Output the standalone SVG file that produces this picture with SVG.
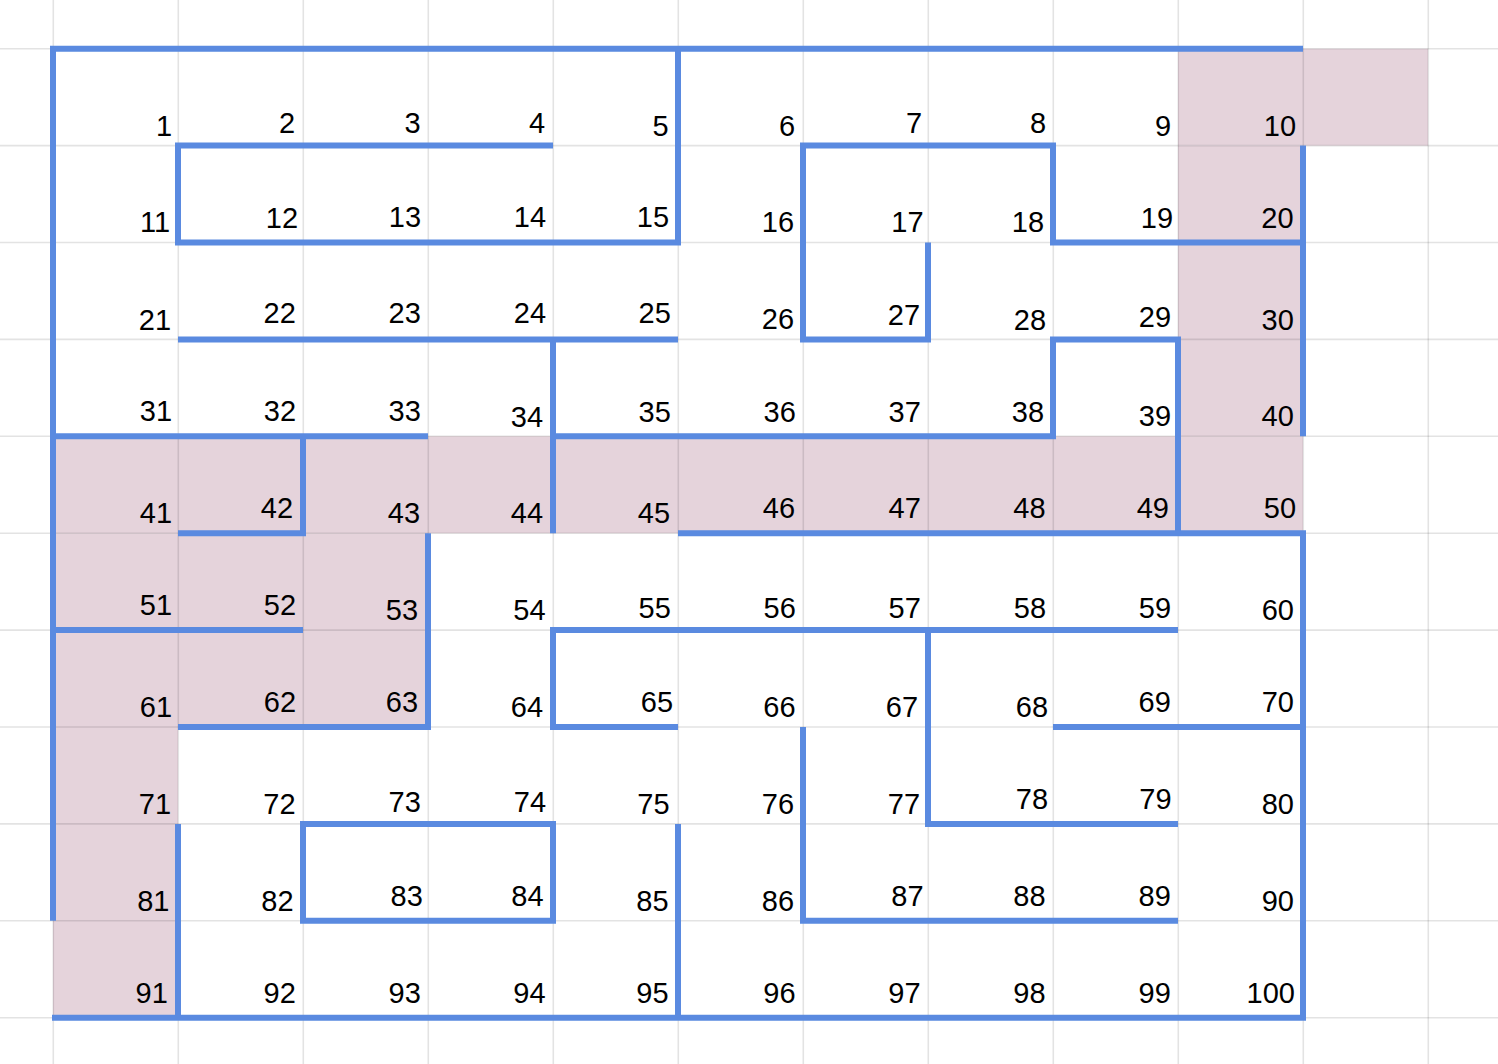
<svg xmlns="http://www.w3.org/2000/svg" width="1498" height="1064" viewBox="0 0 1498 1064">
<style>
.pink{fill:#e5d3db}
.grid{stroke:#000;stroke-opacity:0.11;stroke-width:1.6;fill:none}
.wall{stroke:#5a8ae0;stroke-width:6;fill:none;stroke-linejoin:miter;stroke-linecap:butt}
text{font-family:"Liberation Sans",Arial,sans-serif;font-size:29px;fill:#000;text-anchor:middle}
</style>
<rect width="1498" height="1064" fill="#fff"/>
<g id="path-cells">
<rect class="pink" x="1178" y="48.7" width="250" height="96.9"/>
<rect class="pink" x="1178" y="145.6" width="125" height="290.7"/>
<rect class="pink" x="53" y="436.3" width="1250" height="96.9"/>
<rect class="pink" x="53" y="533.2" width="375" height="193.8"/>
<rect class="pink" x="53" y="727" width="125" height="290.7"/>
</g>
<g id="gridlines" class="grid">
<path d="M53.3,0V1064M178.3,0V1064M303.3,0V1064M428.3,0V1064M553.3,0V1064M678.3,0V1064M803.3,0V1064M928.3,0V1064M1053.3,0V1064M1178.3,0V1064M1303.3,0V1064M1428.3,0V1064"/>
<path d="M0,48.7H1498M0,145.6H1498M0,242.5H1498M0,339.4H1498M0,436.3H1498M0,533.2H1498M0,630.1H1498M0,727H1498M0,823.9H1498M0,920.8H1498M0,1017.7H1498"/>
</g>
<g id="walls" class="wall">
<path d="M53,920.8V48.7H1303"/>
<path d="M1303,145.6V436.3"/>
<path d="M678,533.2H1303V1017.7H52"/>
<path d="M553,145.6H178V242.5H678V48.7"/>
<path d="M928,242.5V339.4H803V145.6H1053V242.5H1303"/>
<path d="M178,339.4H678"/>
<path d="M553,339.4V533.2"/>
<path d="M553,436.3H1053V339.4H1178V533.2"/>
<path d="M53,436.3H428"/>
<path d="M303,436.3V533.2H178"/>
<path d="M428,533.2V727H178"/>
<path d="M53,630.1H303"/>
<path d="M678,727H553V630.1H1178"/>
<path d="M928,630.1V823.9H1178"/>
<path d="M1053,727H1303"/>
<path d="M803,727V920.8H1178"/>
<path d="M303,823.9H553V920.8H303Z"/>
<path d="M178,823.9V1017.7"/>
<path d="M678,823.9V1017.7"/>
</g>
<g id="labels">
<text x="164" y="136">1</text>
<text x="287" y="133.3">2</text>
<text x="412.5" y="133.3">3</text>
<text x="537" y="133.3">4</text>
<text x="660.5" y="135.7">5</text>
<text x="787" y="135.7">6</text>
<text x="914" y="133.3">7</text>
<text x="1038" y="133.3">8</text>
<text x="1163" y="136">9</text>
<text x="1280" y="136">10</text>

<text x="155" y="231.7">11</text>
<text x="282" y="227.7">12</text>
<text x="405" y="226.7">13</text>
<text x="530" y="226.7">14</text>
<text x="653" y="226.7">15</text>
<text x="778" y="232.3">16</text>
<text x="907.5" y="232.3">17</text>
<text x="1028" y="232.3">18</text>
<text x="1157" y="228">19</text>
<text x="1277.5" y="228">20</text>

<text x="155" y="329.5">21</text>
<text x="279.7" y="323.3">22</text>
<text x="404.7" y="323.3">23</text>
<text x="530" y="323.3">24</text>
<text x="654.7" y="323.3">25</text>
<text x="778" y="329.3">26</text>
<text x="904" y="325">27</text>
<text x="1030" y="330">28</text>
<text x="1155" y="327.3">29</text>
<text x="1277.7" y="329.5">30</text>

<text x="156" y="420.7">31</text>
<text x="280" y="420.7">32</text>
<text x="404.7" y="420.7">33</text>
<text x="527" y="426.5">34</text>
<text x="654.7" y="421.5">35</text>
<text x="779.7" y="421.5">36</text>
<text x="904.7" y="421.5">37</text>
<text x="1028" y="421.5">38</text>
<text x="1155" y="426">39</text>
<text x="1277.7" y="426">40</text>

<text x="156" y="522.7">41</text>
<text x="277" y="518.3">42</text>
<text x="404" y="522.7">43</text>
<text x="527" y="522.7">44</text>
<text x="654" y="523">45</text>
<text x="779" y="517.7">46</text>
<text x="904.7" y="517.7">47</text>
<text x="1029.5" y="517.7">48</text>
<text x="1152.8" y="517.7">49</text>
<text x="1280" y="517.7">50</text>

<text x="156" y="615">51</text>
<text x="280" y="615">52</text>
<text x="402" y="620">53</text>
<text x="529.5" y="620">54</text>
<text x="654.7" y="617.7">55</text>
<text x="779.7" y="617.7">56</text>
<text x="904.7" y="617.7">57</text>
<text x="1030" y="617.7">58</text>
<text x="1155" y="617.7">59</text>
<text x="1277.8" y="620">60</text>

<text x="156" y="716.7">61</text>
<text x="280" y="711.7">62</text>
<text x="402" y="711.7">63</text>
<text x="527" y="716.7">64</text>
<text x="657" y="711.7">65</text>
<text x="779.5" y="716.7">66</text>
<text x="902" y="716.7">67</text>
<text x="1032" y="716.7">68</text>
<text x="1154.7" y="711.7">69</text>
<text x="1277.8" y="711.7">70</text>

<text x="155" y="814">71</text>
<text x="279.5" y="814">72</text>
<text x="404.7" y="812">73</text>
<text x="530" y="811.7">74</text>
<text x="653.5" y="814.3">75</text>
<text x="778" y="814.3">76</text>
<text x="904" y="814.3">77</text>
<text x="1032" y="809.3">78</text>
<text x="1155.5" y="809.3">79</text>
<text x="1277.8" y="814">80</text>

<text x="153.3" y="911">81</text>
<text x="277.5" y="911">82</text>
<text x="406.7" y="906">83</text>
<text x="527.5" y="906">84</text>
<text x="652.5" y="910.7">85</text>
<text x="778" y="910.7">86</text>
<text x="907.5" y="906">87</text>
<text x="1029.5" y="906">88</text>
<text x="1154.7" y="906">89</text>
<text x="1277.8" y="911">90</text>

<text x="151.7" y="1002.7">91</text>
<text x="279.7" y="1002.7">92</text>
<text x="404.7" y="1002.7">93</text>
<text x="529.5" y="1002.7">94</text>
<text x="652.5" y="1002.7">95</text>
<text x="779.5" y="1002.7">96</text>
<text x="904.5" y="1002.7">97</text>
<text x="1029.5" y="1002.7">98</text>
<text x="1154.7" y="1002.7">99</text>
<text x="1270.8" y="1002.7">100</text>
</g>
</svg>
